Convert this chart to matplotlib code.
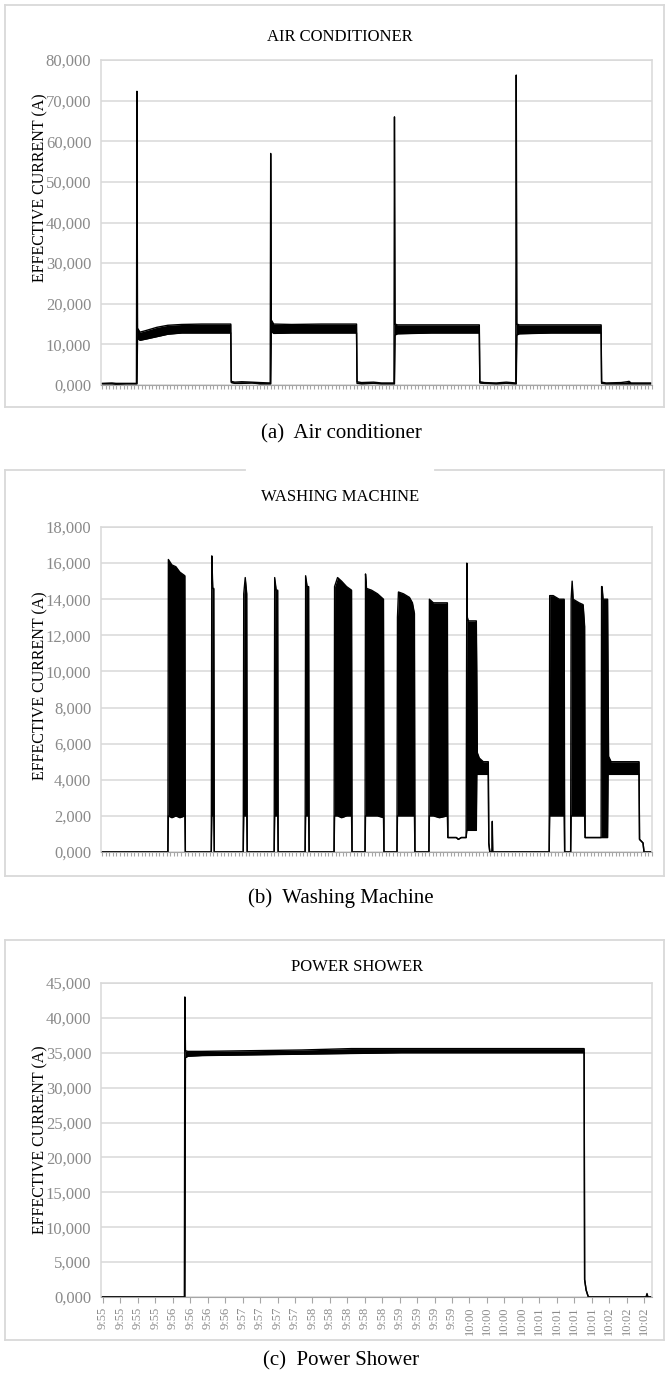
import numpy as np
import matplotlib.pyplot as plt
from matplotlib.lines import Line2D

plt.rcParams['font.family'] = ['Liberation Serif', 'DejaVu Serif']

# ---- Air conditioner: sample index, lower and upper envelope (A) ----
ac_x = [0, 10, 14, 24, 34.5,
        35,
        35.6, 38, 44, 55, 66, 80, 100, 129,
        129.5, 133, 140, 150, 158, 168.5,
        169,
        169.6, 172, 190, 220, 255,
        255.5, 260, 272, 280, 292.5,
        293,
        293.6, 296, 330, 360, 378,
        378.5, 383, 395, 405, 414.5,
        415,
        415.6, 418, 450, 480, 500,
        500.5, 505, 520, 526, 528, 530, 550]
ac_lo = [0.3, 0.3, 0.2, 0.3, 0.3,
         0.3,
         11.5, 11.0, 11.3, 11.9, 12.5, 12.8, 12.8, 12.8,
         0.6, 0.4, 0.4, 0.5, 0.3, 0.3,
         0.3,
         13.2, 12.7, 12.8, 12.8, 12.8,
         0.4, 0.3, 0.4, 0.3, 0.3,
         0.3,
         12.3, 12.6, 12.8, 12.8, 12.8,
         0.5, 0.4, 0.3, 0.4, 0.3,
         0.3,
         12.3, 12.6, 12.8, 12.8, 12.8,
         0.4, 0.3, 0.3, 0.3, 0.3, 0.3, 0.3]
ac_hi = [0.4, 0.5, 0.4, 0.4, 0.4,
         72.3,
         14.0, 13.0, 13.4, 14.2, 14.7, 14.9, 15.0, 15.0,
         0.9, 0.7, 0.8, 0.7, 0.6, 0.5,
         57.0,
         16.0, 15.0, 14.9, 15.0, 15.0,
         0.8, 0.6, 0.7, 0.5, 0.5,
         66.0,
         15.0, 14.8, 14.8, 14.8, 14.8,
         0.8, 0.6, 0.5, 0.7, 0.5,
         76.3,
         15.0, 14.8, 14.8, 14.8, 14.8,
         0.7, 0.5, 0.6, 0.8, 0.9, 0.5, 0.5]

# ---- Washing machine ----
wm_x = [0, 65.5,
        66, 66.5, 70, 74, 78, 83, 83.5,
        109.5, 110, 111, 112, 112.5,
        141.5, 142, 143.5, 145, 145.5,
        172.5, 173, 174.5, 176, 176.5,
        203.5, 204, 205.5, 207, 207.5,
        232.5, 233, 236, 240, 245, 250, 250.5,
        263.5, 264, 265, 270, 276, 282, 282.5,
        295.5, 296, 297, 302, 308, 311, 313, 313.5,
        327.5, 328, 332, 338, 346,
        346.5, 355, 357, 360, 364.8,
        365.5, 366, 367, 375,
        375.5, 376, 378, 382, 387,
        387.5, 388.5, 390.5, 391, 391.5,
        447.5, 448, 448.5, 452, 458, 463, 463.5,
        469.5, 470, 471, 472, 478, 482, 483.5, 484,
        490, 500,
        500.5, 501, 502, 506.5,
        507, 507.5, 510, 520, 530, 538,
        538.5, 542, 543, 550]
wm_lo = [0, 0,
         0, 2.0, 1.9, 2.0, 1.9, 2.0, 0,
         0, 2.0, 2.0, 2.0, 0,
         0, 2.0, 2.0, 2.0, 0,
         0, 2.0, 2.0, 2.0, 0,
         0, 2.0, 2.0, 2.0, 0,
         0, 2.0, 2.0, 1.9, 2.0, 2.0, 0,
         0, 2.0, 2.0, 2.0, 2.0, 1.9, 0,
         0, 2.0, 2.0, 2.0, 2.0, 2.0, 2.0, 0,
         0, 2.0, 2.0, 1.9, 2.0,
         0.8, 0.8, 0.7, 0.8, 0.8,
         1.2, 1.2, 1.2, 1.2,
         4.3, 4.3, 4.3, 4.3, 4.3,
         0.5, 0, 0, 0, 0,
         0, 0, 2.0, 2.0, 2.0, 2.0, 0,
         0, 2.0, 2.0, 2.0, 2.0, 2.0, 2.0, 0.8,
         0.8, 0.8,
         0.8, 0.8, 0.8, 0.8,
         4.3, 4.3, 4.3, 4.3, 4.3, 4.3,
         0.7, 0.5, 0, 0]
wm_hi = [0, 0,
         0, 16.2, 15.9, 15.8, 15.5, 15.3, 0,
         0, 16.4, 14.6, 14.6, 0,
         0, 14.3, 15.2, 14.3, 0,
         0, 15.2, 14.5, 14.5, 0,
         0, 15.3, 14.7, 14.7, 0,
         0, 14.7, 15.2, 15.0, 14.7, 14.5, 0,
         0, 15.4, 14.6, 14.5, 14.3, 14.0, 0,
         0, 13.0, 14.4, 14.3, 14.1, 13.8, 13.2, 0,
         0, 14.0, 13.8, 13.8, 13.8,
         0.8, 0.8, 0.7, 0.8, 0.8,
         16.0, 13.0, 12.8, 12.8,
         9.7, 5.5, 5.2, 5.0, 5.0,
         0.5, 0, 0, 1.7, 0,
         0, 0, 14.2, 14.2, 14.0, 14.0, 0,
         0, 14.0, 15.0, 14.0, 13.8, 13.7, 12.5, 0.8,
         0.8, 0.8,
         14.7, 14.7, 14.0, 14.0,
         9.7, 5.3, 5.0, 5.0, 5.0, 5.0,
         0.7, 0.5, 0, 0]

# ---- Power shower ----
ps_x = [0, 82.5, 83, 83.6, 86, 100, 150, 200, 250, 300, 350, 400, 450, 483,
        483.5, 485, 487, 488, 540, 545, 546, 547, 550]
ps_lo = [0, 0, 0, 34.3, 34.5, 34.6, 34.7, 34.8, 34.9, 35.0, 35.0, 35.0, 35.0, 35.0,
         2.5, 1.0, 0.1, 0, 0, 0, 0, 0, 0]
ps_hi = [0, 0, 43.0, 35.3, 35.2, 35.2, 35.3, 35.4, 35.6, 35.6, 35.6, 35.6, 35.6, 35.6,
         2.5, 1.0, 0.1, 0, 0, 0, 0.5, 0, 0]

ps_labels = ['9:55', '9:55', '9:55', '9:55', '9:56', '9:56', '9:56', '9:56',
             '9:57', '9:57', '9:57', '9:57', '9:58', '9:58', '9:58', '9:58', '9:58',
             '9:59', '9:59', '9:59', '9:59', '10:00', '10:00', '10:00', '10:00',
             '10:01', '10:01', '10:01', '10:01', '10:02', '10:02', '10:02']

W, H = 669, 1380
fig = plt.figure(figsize=(W / 100, H / 100), dpi=100)
GRAY = '#d9d9d9'
TITLE_FS = 12
YLAB_FS = 11.5
CAP_FS = 15


def fx(x):
    return x / W


def fy(y):
    return 1 - y / H


def frame(x0, y0, x1, y1, gap=None):
    segs = [((x0, y0), (x0, y1)), ((x0, y1), (x1, y1)), ((x1, y1), (x1, y0))]
    if gap:
        segs += [((x0, y0), (gap[0], y0)), ((gap[1], y0), (x1, y0))]
    else:
        segs += [((x0, y0), (x1, y0))]
    for (a, b) in segs:
        fig.add_artist(Line2D([fx(a[0]), fx(b[0])], [fy(a[1]), fy(b[1])],
                              color=GRAY, lw=1.3, transform=fig.transFigure))


def panel(top, bottom, x, lo, hi, ymax, ystep):
    ax = fig.add_axes([fx(101), fy(bottom), fx(652 - 101), (bottom - top) / H])
    ax.fill_between(x, lo, hi, color='black', lw=0)
    ax.plot(x, lo, color='black', lw=1.0)
    ax.plot(x, hi, color='black', lw=1.0)
    ax.set_xlim(-1, 551)
    ax.set_ylim(0, ymax)
    yt = np.arange(0, ymax + ystep / 2, ystep)
    ax.set_yticks(yt)
    ax.set_yticklabels([f"{v:.3f}".replace('.', ',') for v in yt])
    ax.yaxis.grid(True, color=GRAY, lw=1.1)
    ax.set_axisbelow(True)
    for s in ['top', 'right', 'left']:
        ax.spines[s].set_color(GRAY)
        ax.spines[s].set_linewidth(1.1)
    ax.spines['bottom'].set_color('#a6a6a6')
    ax.tick_params(axis='y', length=0, labelsize=12, labelcolor='#8a8a8a', pad=7)
    ax.tick_params(axis='x', length=3, color='#a6a6a6', width=0.8)
    return ax


# (a) air conditioner
frame(5, 5, 664, 407)
ax1 = panel(60, 385, ac_x, ac_lo, ac_hi, 80, 10)
ax1.set_xticks(np.arange(0, 551, 3.6))
ax1.set_xticklabels([])
fig.text(fx(340), fy(37), 'AIR CONDITIONER', ha='center', va='center', fontsize=TITLE_FS)
fig.text(fx(40), fy(188), 'EFFECTIVE CURRENT (A)', rotation=90, ha='center', va='center', fontsize=YLAB_FS)
fig.text(fx(341), fy(434), '(a)  Air conditioner', ha='center', va='center', fontsize=CAP_FS)

# (b) washing machine
frame(5, 470, 664, 876, gap=(245, 435))
ax2 = panel(527, 852, wm_x, wm_lo, wm_hi, 18, 2)
ax2.set_xticks(np.arange(0, 551, 3.6))
ax2.set_xticklabels([])
fig.text(fx(340), fy(497), 'WASHING MACHINE', ha='center', va='center', fontsize=TITLE_FS)
fig.text(fx(40), fy(686), 'EFFECTIVE CURRENT (A)', rotation=90, ha='center', va='center', fontsize=YLAB_FS)
fig.text(fx(341), fy(898), '(b)  Washing Machine', ha='center', va='center', fontsize=CAP_FS)

# (c) power shower
frame(5, 940, 664, 1340)
ax3 = panel(983, 1297, ps_x, ps_lo, ps_hi, 45, 5)
ax3.set_xticks(np.linspace(1, 543, len(ps_labels)))
ax3.set_xticklabels(ps_labels, rotation=90, fontsize=9, color='#8a8a8a')
ax3.tick_params(axis='x', length=4, pad=3)
fig.text(fx(357), fy(967), 'POWER SHOWER', ha='center', va='center', fontsize=TITLE_FS)
fig.text(fx(40), fy(1140), 'EFFECTIVE CURRENT (A)', rotation=90, ha='center', va='center', fontsize=YLAB_FS)
fig.text(fx(341), fy(1361), '(c)  Power Shower', ha='center', va='center', fontsize=CAP_FS)

fig.savefig('out.png', dpi=100)
